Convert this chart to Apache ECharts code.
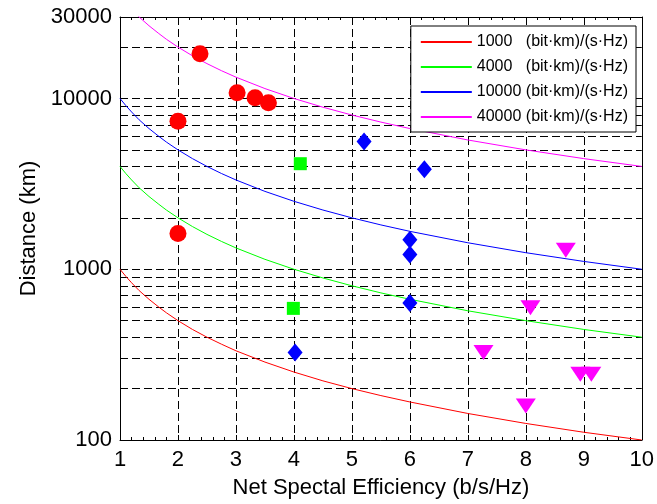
<!DOCTYPE html>
<html lang="en">
<head>
    <meta charset="UTF-8">
    <title>Distance vs SE</title>
    <script src="https://cdn.jsdelivr.net/npm/echarts@6/dist/echarts.min.js"></script>
    <style>body{margin:0;background:#fff;}</style>
</head>
<body>
    <div id="graph" style="width: 657px; height: 504px;"></div>

    <script>
        // curve samples (x = spectral efficiency)
        var curveX = [1, 1.1, 1.2, 1.33, 1.5, 1.67, 1.8, 2, 2.25, 2.5, 2.75, 3, 3.5, 4, 4.5, 5, 5.5, 6, 7, 8, 9, 10];
        var red1000 = [1000, 909, 833, 750, 667, 600, 556, 500, 444, 400, 364, 333, 286, 250, 222, 200, 182, 167, 143, 125, 111, 100];
        var green4000 = [4000, 3636, 3333, 3000, 2667, 2400, 2222, 2000, 1778, 1600, 1455, 1333, 1143, 1000, 889, 800, 727, 667, 571, 500, 444, 400];
        var blue10000 = [10000, 9091, 8333, 7500, 6667, 6000, 5556, 5000, 4444, 4000, 3636, 3333, 2857, 2500, 2222, 2000, 1818, 1667, 1429, 1250, 1111, 1000];
        var magenta40000 = [40000, 36364, 33333, 30000, 26667, 24000, 22222, 20000, 17778, 16000, 14545, 13333, 11429, 10000, 8889, 8000, 7273, 6667, 5714, 5000, 4444, 4000];
        var curveNames = ['1000', '4000', '10000', '40000'];

        // measured points
        var redDots = [[2.38, 18300], [2, 7350], [3.02, 10800], [3.33, 10100], [3.56, 9450], [2, 1620]];
        var greenSquares = [[4.11, 4150], [3.99, 590]];
        var blueDiamonds = [[5.21, 5600], [6.25, 3850], [6, 1490], [6, 1220], [6, 635], [4.02, 325]];
        var magentaTriangles = [[8.69, 1290], [8.08, 595], [7.27, 325], [8.94, 243], [9.13, 243], [8, 158]];

        var yGrid = [200, 300, 400, 500, 600, 700, 800, 900, 1000, 2000, 3000, 4000, 5000, 6000, 7000, 8000, 9000, 10000, 20000];

        var font = 'Liberation Sans, Arial, sans-serif';
        var dash = [8, 4];

        function pairs(ys) {
            var out = [];
            for (var i = 0; i < curveX.length; i++) out.push([curveX[i], ys[i]]);
            return out;
        }

        var gridLines = [];
        for (var i = 0; i < yGrid.length; i++) gridLines.push({yAxis: yGrid[i]});

        var curveColors = ['#ff0000', '#00ff00', '#0000ff', '#ff00ff'];
        var curveData = [red1000, green4000, blue10000, magenta40000];
        var s = [];
        for (var i = 0; i < 4; i++) {
            var ser = {
                name: curveNames[i], type: 'line', data: pairs(curveData[i]),
                symbol: 'none', z: 3,
                lineStyle: {color: curveColors[i], width: 1}, itemStyle: {color: curveColors[i]}
            };
            if (i === 0) {
                ser.markLine = {
                    silent: true, symbol: 'none', label: {show: false}, z: 1,
                    lineStyle: {color: '#000', width: 1, type: dash},
                    data: gridLines
                };
            }
            s.push(ser);
        }
        s.push({type: 'scatter', data: redDots, symbol: 'circle', symbolSize: 17, itemStyle: {color: '#ff0000', opacity: 1}, z: 5});
        s.push({type: 'scatter', data: greenSquares, symbol: 'rect', symbolSize: 13, itemStyle: {color: '#00ff00', opacity: 1}, z: 5});
        s.push({type: 'scatter', data: blueDiamonds, symbol: 'diamond', symbolSize: [15, 18], itemStyle: {color: '#0000ff', opacity: 1}, z: 5});
        s.push({type: 'scatter', data: magentaTriangles, symbol: 'triangle', symbolRotate: 180, symbolSize: [20, 15], itemStyle: {color: '#ff00ff', opacity: 1}, z: 5});

        var myChart = echarts.init(document.getElementById('graph'));
        var option = {
            animation: false,
            backgroundColor: '#fff',
            grid: {left: 120, right: 14, top: 17, bottom: 61},
            legend: {
                data: curveNames,
                icon: 'rect',
                orient: 'vertical', right: 21, top: 26,
                backgroundColor: '#fff', borderColor: '#000', borderWidth: 1,
                padding: [8, 8, 7, 10],
                itemWidth: 51, itemHeight: 2, itemGap: 9,
                textStyle: {
                    fontFamily: font, fontSize: 16, color: '#000', lineHeight: 16,
                    rich: {
                        a: {fontFamily: font, fontSize: 16, color: '#000', width: 49},
                        b: {fontFamily: font, fontSize: 16, color: '#000'}
                    }
                },
                formatter: function (name) { return '{a|' + name + '}{b|(bit\u00b7km)/(s\u00b7Hz)}'; }
            },
            xAxis: [{
                type: 'value', min: 1, max: 10, interval: 1,
                name: 'Net Spectal Efficiency (b/s/Hz)', nameLocation: 'middle', nameGap: 37,
                nameTextStyle: {fontFamily: font, fontSize: 22, color: '#000'},
                axisLine: {onZero: false, lineStyle: {color: '#000', width: 1}},
                axisTick: {inside: true, length: 5, lineStyle: {color: '#000'}},
                minorTick: {show: true, splitNumber: 5, length: 3, lineStyle: {color: '#000'}},
                axisLabel: {fontFamily: font, fontSize: 22, color: '#000', margin: 9},
                splitLine: {show: true, lineStyle: {color: '#000', width: 1, type: dash}}
            }, {
                type: 'value', min: 1, max: 10, interval: 1, position: 'top',
                axisLine: {onZero: false, lineStyle: {color: '#000', width: 1}},
                axisTick: {inside: true, length: 5, lineStyle: {color: '#000'}},
                minorTick: {show: true, splitNumber: 5, length: 3, lineStyle: {color: '#000'}},
                axisLabel: {show: false}, splitLine: {show: false}
            }],
            yAxis: [{
                type: 'log', logBase: 10, min: 100, max: 30000,
                name: 'Distance (km)', nameLocation: 'middle', nameGap: 72,
                nameTextStyle: {fontFamily: font, fontSize: 22, color: '#000'},
                axisLine: {onZero: false, lineStyle: {color: '#000', width: 1}},
                axisTick: {inside: true, length: 5, lineStyle: {color: '#000'}},
                axisLabel: {fontFamily: font, fontSize: 22, color: '#000', margin: 8, showMaxLabel: true, showMinLabel: true,
                    formatter: function (v) { return String(Math.round(v)); }},
                splitLine: {show: false}
            }, {
                type: 'log', logBase: 10, min: 100, max: 30000, position: 'right',
                axisLine: {onZero: false, lineStyle: {color: '#000', width: 1}},
                axisTick: {inside: true, length: 5, lineStyle: {color: '#000'}},
                axisLabel: {show: false}, splitLine: {show: false}
            }],
            series: s
        };
        myChart.setOption(option);
    </script>
</body>
</html>
